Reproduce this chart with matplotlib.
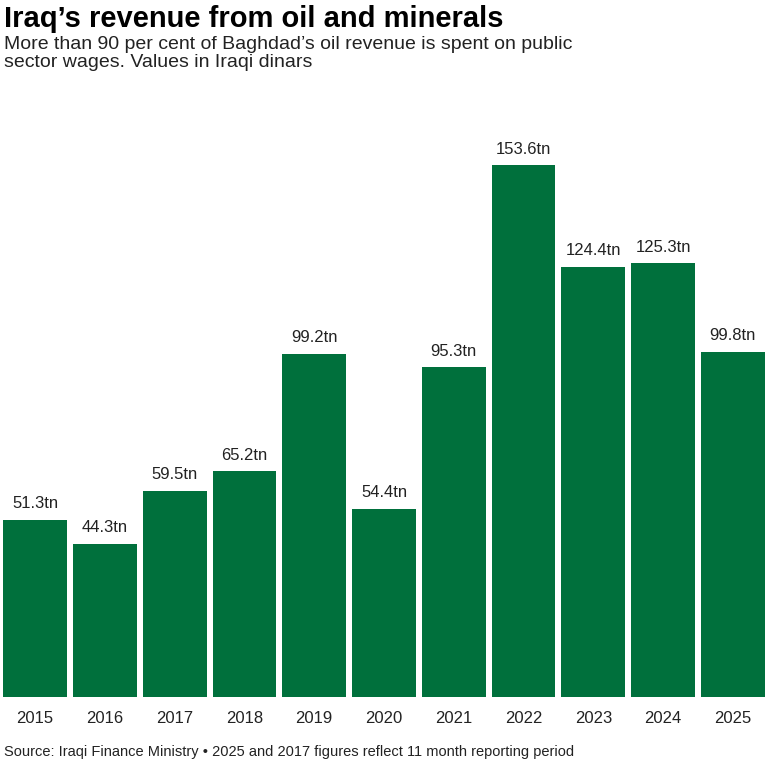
import matplotlib
matplotlib.use("Agg")
import matplotlib.pyplot as plt

years = ["2015","2016","2017","2018","2019","2020","2021","2022","2023","2024","2025"]
values = [51.3,44.3,59.5,65.2,99.2,54.4,95.3,153.6,124.4,125.3,99.8]

plt.rcParams['font.family'] = ['Liberation Sans', 'DejaVu Sans']
fig = plt.figure(figsize=(7.68,7.68), dpi=100)
ax = fig.add_axes([0.004, 0.0924, 0.992, 0.739])
green = "#00703c"
x = range(len(years))
bars = ax.bar(x, values, width=0.915, color=green)
for xi, v in zip(x, values):
    ax.text(xi, v + 2.5, f"{v}tn", ha="center", va="bottom", fontsize=12, color="#222222")
ax.set_xlim(-0.46, 10.46)
ax.set_ylim(0, 164)
ax.set_xticks(list(x))
ax.set_xticklabels(years, fontsize=12, color="#222222")
ax.tick_params(axis="x", length=0, pad=10)
ax.set_yticks([])
for s in ax.spines.values():
    s.set_visible(False)

fig.text(0.005, 0.993, "Iraq’s revenue from oil and minerals", fontsize=21, fontweight="bold", va="top", ha="left")
fig.text(0.005, 0.953, "More than 90 per cent of Baghdad’s oil revenue is spent on public\nsector wages. Values in Iraqi dinars", fontsize=14, va="top", ha="left", linespacing=1.1, color="#222222")
fig.text(0.005, 0.012, "Source: Iraqi Finance Ministry • 2025 and 2017 figures reflect 11 month reporting period", fontsize=10.5, va="bottom", ha="left", color="#222222")
fig.savefig("out.png", dpi=100)
